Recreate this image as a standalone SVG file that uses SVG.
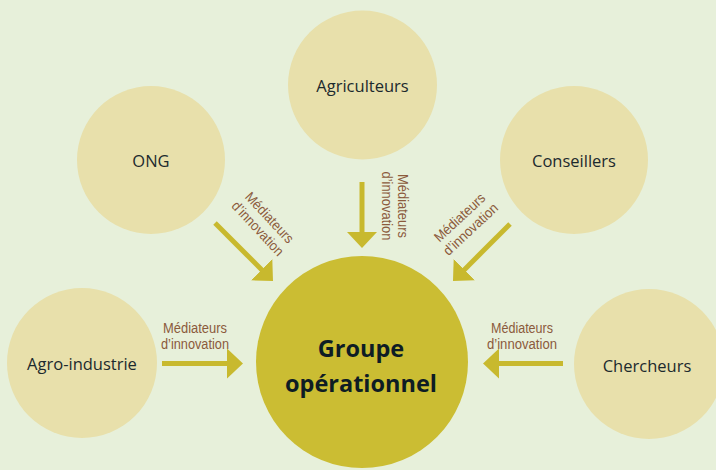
<svg xmlns="http://www.w3.org/2000/svg" width="716" height="470" viewBox="0 0 716 470">
  <style>
    .bg { fill: #e7f0da; }
    .actor { fill: #e8e0ab; }
    .core { fill: #cbbd33; }
    .actor-label { font-family: "Open Sans", "DejaVu Sans", sans-serif; font-size: 16.5px; fill: #1c2a2e; text-anchor: middle; }
    .core-label { font-family: "Open Sans", "DejaVu Sans", sans-serif; font-size: 23.5px; font-weight: bold; fill: #0e1c24; text-anchor: middle; }
    .flow { stroke: #c8b92e; stroke-width: 5; fill: none; marker-end: url(#head); }
    .role { font-family: "Liberation Sans", "Open Sans", sans-serif; font-size: 14px; fill: #8b5a3c; text-anchor: middle; }
  </style>
  <defs>
    <marker id="head" viewBox="0 0 16 30" refX="1" refY="15" markerWidth="16" markerHeight="30" markerUnits="userSpaceOnUse" orient="auto">
      <path d="M0,0 L16,15 L0,30 Z" fill="#c8b92e"/>
    </marker>
  </defs>

  <rect class="bg" x="0" y="0" width="716" height="470"/>

  <!-- stakeholders -->
  <g id="agriculteurs">
    <circle class="actor" cx="362.5" cy="85" r="74.5"/>
    <text class="actor-label" x="362.5" y="92">Agriculteurs</text>
  </g>
  <g id="ong">
    <circle class="actor" cx="151" cy="160" r="74"/>
    <text class="actor-label" x="151" y="167">ONG</text>
  </g>
  <g id="conseillers">
    <circle class="actor" cx="574" cy="160" r="74"/>
    <text class="actor-label" x="574" y="167">Conseillers</text>
  </g>
  <g id="agro-industrie">
    <circle class="actor" cx="82" cy="363" r="75"/>
    <text class="actor-label" x="82" y="370">Agro-industrie</text>
  </g>
  <g id="chercheurs">
    <circle class="actor" cx="649" cy="364" r="75"/>
    <text class="actor-label" x="647" y="372">Chercheurs</text>
  </g>

  <!-- operational group -->
  <g id="groupe-operationnel">
    <circle class="core" cx="362" cy="362" r="106"/>
    <text class="core-label" x="361" y="357">Groupe</text>
    <text class="core-label" x="361" y="392">opérationnel</text>
  </g>

  <!-- innovation brokers feeding the group -->
  <g id="connectors">
    <line class="flow" x1="215" y1="223" x2="262.4" y2="270.4"/>
    <line class="flow" x1="362" y1="182" x2="362" y2="233"/>
    <line class="flow" x1="510" y1="224" x2="463.6" y2="270.4"/>
    <line class="flow" x1="162" y1="363.5" x2="228" y2="363.5"/>
    <line class="flow" x1="563" y1="363.5" x2="498" y2="363.5"/>

    <g transform="translate(260.6,226) rotate(47)">
      <text class="role" y="-7.5" textLength="64" lengthAdjust="spacingAndGlyphs">Médiateurs</text>
      <text class="role" y="8.5" textLength="69" lengthAdjust="spacingAndGlyphs">d’innovation</text>
    </g>
    <g transform="translate(390,206) rotate(90)">
      <text class="role" y="-7.5" textLength="64" lengthAdjust="spacingAndGlyphs">Médiateurs</text>
      <text class="role" y="8.5" textLength="69" lengthAdjust="spacingAndGlyphs">d’innovation</text>
    </g>
    <g transform="translate(468,226.5) rotate(-43)">
      <text class="role" y="-7.5" textLength="64" lengthAdjust="spacingAndGlyphs">Médiateurs</text>
      <text class="role" y="8.5" textLength="69" lengthAdjust="spacingAndGlyphs">d’innovation</text>
    </g>
    <g transform="translate(195,340)">
      <text class="role" y="-7.5" textLength="64" lengthAdjust="spacingAndGlyphs">Médiateurs</text>
      <text class="role" y="8.5" textLength="68" lengthAdjust="spacingAndGlyphs">d’innovation</text>
    </g>
    <g transform="translate(522,340)">
      <text class="role" y="-7.5" textLength="62" lengthAdjust="spacingAndGlyphs">Médiateurs</text>
      <text class="role" y="8.5" textLength="70" lengthAdjust="spacingAndGlyphs">d’innovation</text>
    </g>
  </g>
</svg>
